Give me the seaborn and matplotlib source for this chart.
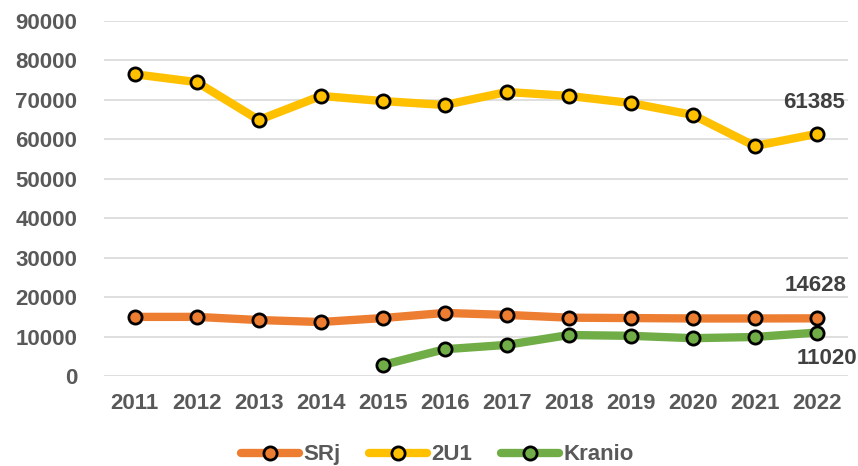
import numpy as np
import pandas as pd
import seaborn as sns
import matplotlib.pyplot as plt

years = [2011, 2012, 2013, 2014, 2015, 2016, 2017, 2018, 2019, 2020, 2021, 2022]
srj = [15000, 15000, 14200, 13700, 14700, 16000, 15500, 14800, 14700, 14600, 14600, 14628]
u21 = [76500, 74500, 64900, 71000, 69700, 68700, 72000, 71000, 69200, 66200, 58300, 61385]
kranio = [np.nan, np.nan, np.nan, np.nan, 2800, 6800, 7900, 10400, 10200, 9600, 9900, 11020]

series_names = ["SRj", "2U1", "Kranio"]
colors = ["#ED7D31", "#FFC000", "#70AD47"]

df = pd.DataFrame({"year": years, "SRj": srj, "2U1": u21, "Kranio": kranio})
long_df = df.melt(id_vars="year", var_name="series", value_name="value").dropna()

sns.set_style("white")
plt.rcParams["font.family"] = ["Liberation Sans", "DejaVu Sans"]
plt.rcParams["font.weight"] = "bold"

fig, ax = plt.subplots(figsize=(8.58, 4.66), dpi=100)
fig.subplots_adjust(left=0.121, right=0.988, top=0.955, bottom=0.193)

sns.lineplot(data=long_df, x="year", y="value", hue="series", hue_order=series_names,
             palette=colors, linewidth=6, marker="o", markersize=9.5,
             markeredgecolor="black", markeredgewidth=2, ax=ax)

ax.set_xlim(2010.5, 2022.5)
ax.set_ylim(0, 90000)
ax.set_xticks(years)
ax.set_yticks(range(0, 90001, 10000))
ax.tick_params(axis="both", length=0, labelsize=16, labelcolor="#595959")
ax.tick_params(axis="y", pad=19)
ax.tick_params(axis="x", pad=12)
for lbl in ax.get_xticklabels() + ax.get_yticklabels():
    lbl.set_fontweight("bold")
ax.grid(axis="y", color="#D9D9D9", linewidth=1.2)
ax.set_axisbelow(True)
for s in ax.spines.values():
    s.set_visible(False)
ax.set_xlabel("")
ax.set_ylabel("")

# end-point labels
lab_kw = dict(fontsize=16, fontweight="bold", color="#404040")
ax.annotate(f"{u21[-1]}", (years[-1], u21[-1]), xytext=(-2, 15), textcoords="offset points",
            ha="center", va="bottom", **lab_kw)
ax.annotate(f"{srj[-1]}", (years[-1], srj[-1]), xytext=(-1, 16), textcoords="offset points",
            ha="center", va="bottom", **lab_kw)
ax.annotate(f"{kranio[-1]}", (years[-1], kranio[-1]), xytext=(29, -11), textcoords="offset points",
            ha="right", va="top", **lab_kw)

handles, labels = ax.get_legend_handles_labels()
ax.get_legend().remove()
leg = fig.legend(handles, labels, loc="center", bbox_to_anchor=(0.51, 0.024), ncol=3,
                 frameon=False, fontsize=16, handlelength=2.6, columnspacing=1.3, handletextpad=0.2)
for t in leg.get_texts():
    t.set_color("#595959")
    t.set_fontweight("bold")

fig.savefig("out.png", dpi=100)
